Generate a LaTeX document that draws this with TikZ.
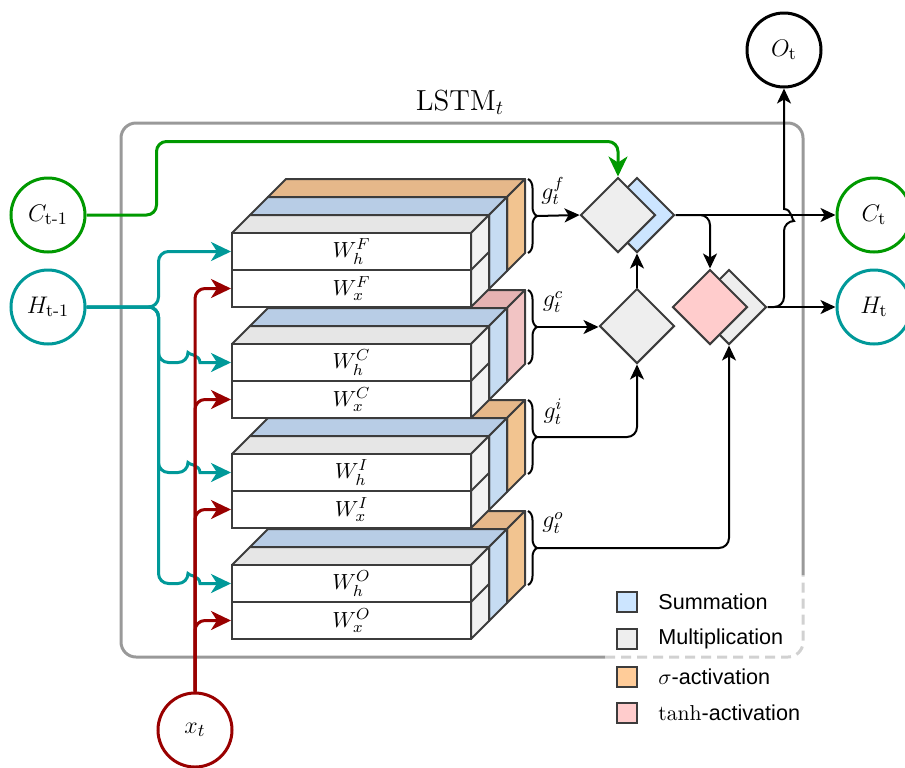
\documentclass[tikz,border=0pt]{standalone}
\usepackage{amsmath}
\usepackage{fontspec}
\newfontfamily\legendfont{Liberation Sans}
\usetikzlibrary{arrows.meta,shapes.geometric,decorations.pathreplacing,calc}

\definecolor{sumblue}{HTML}{CCE5FF}
\definecolor{mulgray}{HTML}{EEEEEE}
\definecolor{sigorange}{HTML}{FFCC99}
\definecolor{tanhpink}{HTML}{FFCCCC}
\definecolor{sigtop}{HTML}{E6B88A}
\definecolor{sigside}{HTML}{F2C490}
\definecolor{tanhtop}{HTML}{E6B3B3}
\definecolor{tanhside}{HTML}{F2C4C4}
\definecolor{bluetop}{HTML}{B8CDE6}
\definecolor{blueside}{HTML}{C6DCF2}
\definecolor{graytop}{HTML}{E6E6E6}
\definecolor{grayside}{HTML}{F2F2F2}
\definecolor{edgegray}{HTML}{3C3C3C}
\definecolor{cgreen}{HTML}{009900}
\definecolor{hteal}{HTML}{009999}
\definecolor{xred}{HTML}{990000}
\definecolor{boxgray}{HTML}{999999}

\begin{document}
\begin{tikzpicture}[
  x=0.5pt,y=-0.5pt,
  state/.style={circle,draw,line width=1.5pt,minimum size=37pt,inner sep=0pt,
                font=\fontsize{12.5}{14}\selectfont},
  row/.style={draw=edgegray,line width=1pt,fill=white,minimum width=119.5pt,
              minimum height=18.5pt,inner sep=0pt,font=\fontsize{11}{12}\selectfont},
  gate/.style={diamond,aspect=1,draw=edgegray,line width=1pt,minimum width=37.5pt,
               minimum height=37.5pt,inner sep=0pt},
  face/.style={draw=edgegray,line width=1pt,line join=round},
  glabel/.style={font=\fontsize{12}{14}\selectfont},
  arrow/.style={-{Stealth[length=7.5pt,width=7pt,inset=2pt]},line width=1pt},
  flow/.style={-{Stealth[length=10pt,width=9.5pt,inset=3pt]},line width=1.5pt,
               rounded corners=5pt},
  gbrace/.style={decorate,decoration={brace,amplitude=4.5pt},line width=1pt},
  key/.style={draw=edgegray,line width=0.8pt,minimum size=10pt,inner sep=0pt},
  keytext/.style={anchor=west,inner sep=0pt,font=\legendfont\fontsize{10.8}{12}\selectfont}
]
\useasboundingbox (0,0) rectangle (905,767);

% LSTM cell
\draw[line width=1.5pt,boxgray,rounded corners=7.5pt]
  (803,575) -- (803,123) -- (121,123) -- (121,657) -- (605,657);
\draw[line width=1.5pt,boxgray!45,dash pattern=on 5pt off 3pt,rounded corners=7.5pt]
  (605,657) -- (803,657) -- (803,575);
\node[font=\fontsize{14.5}{16}\selectfont] (title) at (460,102) {$\mathrm{LSTM}_t$};

% weight blocks, bottom one first
\foreach \T/\g/\G/\topc/\sidec in {565/o/O/sigtop/sigside,454/i/I/sigtop/sigside,
                                   344/c/C/tanhtop/tanhside,233/f/F/sigtop/sigside}{
  \draw[face,fill=\topc] (268,\T-36) -- (507,\T-36) -- (525,\T-54) -- (286,\T-54) -- cycle;
  \draw[face,fill=\sidec] (507,\T-36) -- (507,\T+38) -- (525,\T+20) -- (525,\T-54) -- cycle;
  \draw[face,fill=bluetop] (250,\T-18) -- (489,\T-18) -- (507,\T-36) -- (268,\T-36) -- cycle;
  \draw[face,fill=blueside] (489,\T-18) -- (489,\T+56) -- (507,\T+38) -- (507,\T-36) -- cycle;
  \draw[face,fill=graytop] (232,\T) -- (471,\T) -- (489,\T-18) -- (250,\T-18) -- cycle;
  \draw[face,fill=grayside] (471,\T) -- (471,\T+74) -- (489,\T+56) -- (489,\T-18) -- cycle;
  \draw[face] (471,\T+37) -- (489,\T+19);
  \node[row] (h\G) at (351.5,\T+18.5) {$W_h^{\G}$};
  \node[row] (x\G) at (351.5,\T+55.5) {$W_x^{\G}$};
  \draw[gbrace] (528,\T-54) -- (528,\T+20);
  \coordinate (g\g) at (537,\T-17);
  \node[glabel] at (553,\T-42) {$g_t^{\g}$};
}

% gates
\node[gate,fill=sumblue] (sumF) at (637,215) {};
\node[gate,fill=mulgray] (mulF) at (618,215) {};
\node[gate,fill=mulgray] (mulC) at (637,326) {};
\node[gate,fill=mulgray] (mulO) at (729,307) {};
\node[gate,fill=tanhpink] (tanhC) at (710,307) {};

% states
\node[state,draw=cgreen] (cprev) at (48,215) {$C_{\text{t-1}}$};
\node[state,draw=hteal] (hprev) at (48,307) {$H_{\text{t-1}}$};
\node[state,draw=xred] (xt) at (195,730) {$x_t$};
\node[state] (ot) at (784,50) {$O_{\text{t}}$};
\node[state,draw=cgreen] (ct) at (874,215) {$C_{\text{t}}$};
\node[state,draw=hteal] (ht) at (874,307) {$H_{\text{t}}$};

% inputs
\draw[flow,cgreen] (cprev.east) -- ++(70,0) |- ($(mulF.north)+(0,-35)$) -- (mulF.north);
\draw[flow,hteal] (hprev.east) -- ++(72,0) |- (hF.west);
\foreach \G in {C,I,O}
  \draw[flow,hteal] (hprev.east) -- ++(72,0) |- ($(h\G.west)+(-43,0)$) coordinate (j\G)
    [sharp corners] .. controls ($(j\G)+(0,-8)$) and ($(j\G)+(12,-8)$) .. ($(j\G)+(12,0)$)
    -- (h\G.west);
\foreach \G in {F,C,I,O}
  \draw[flow,xred] (xt.north) |- (x\G.west);

% gate outputs
\draw[arrow] (gf) -- (mulF.west);
\draw[arrow] (gc) -- (gc -| mulC.west);
\draw[arrow,rounded corners=5pt] (gi) -| (mulC.south);
\draw[arrow] (mulC.north) -- (sumF.south);
\draw[arrow,rounded corners=5pt] (go) -| (mulO.south);
\draw[arrow] (sumF.east) -- (ct.west);
\draw[arrow,rounded corners=5pt] (sumF.east) -| (tanhC.north);
\draw[arrow] (mulO.east) -- (ht.west);
\draw[arrow,rounded corners=5pt] (mulO.east) -| (784,221)
  [sharp corners] .. controls (792,221) and (792,209) .. (784,209) -- (ot.south);

% legend
\foreach \y/\kc/\lbl in {602/sumblue/Summation,639/mulgray/Multiplication,
                          677/sigorange/{$\sigma$-activation},713/tanhpink/{$\tanh$-activation}}{
  \node[key,fill=\kc] (key\y) at (627,\y) {};
  \node[keytext] at (658,\y) {\lbl};
}
\end{tikzpicture}
\end{document}
